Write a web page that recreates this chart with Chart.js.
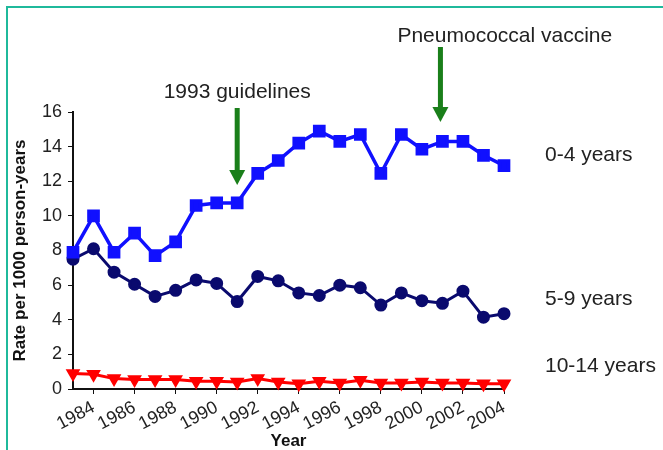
<!DOCTYPE html>
<html lang="en">
<head>
  <meta charset="UTF-8">
  <title>Rate per 1000 person-years by age group</title>
  <script src="https://cdn.jsdelivr.net/npm/chart.js@4.4.1/dist/chart.umd.min.js"></script>
</head>
<style>
* {
  margin: 0;
  padding: 0;
  box-sizing: border-box;
}

body {
  background: #fff;
  width: 663px;
  height: 450px;
  overflow: hidden;
}

.wrapper {
  position: relative;
  width: 663px;
  height: 450px;
}

.frame {
  position: absolute;
  left: 6px;
  top: 6px;
  right: 0;
  bottom: 0;
  border-left: 2px solid #1fb99b;
  border-top: 2px solid #1fb99b;
  pointer-events: none;
}
</style>
<body>
<div class="wrapper">
  <canvas id="chart" width="663" height="450"></canvas>
  <div class="frame"></div>
</div>
<script>
const years = ["1983", "1984", "1985", "1986", "1987", "1988", "1989", "1990", "1991", "1992", "1993",
  "1994", "1995", "1996", "1997", "1998", "1999", "2000", "2001", "2002", "2003", "2004"];

const age0to4 = [7.9, 10.0, 7.9, 9.0, 7.7, 8.5, 10.6, 10.75, 10.75, 12.45, 13.2,
  14.2, 14.9, 14.3, 14.7, 12.45, 14.7, 13.85, 14.3, 14.3, 13.5, 12.9];
const age5to9 = [7.5, 8.1, 6.75, 6.05, 5.35, 5.7, 6.3, 6.1, 5.05, 6.5, 6.25,
  5.55, 5.4, 6.0, 5.85, 4.85, 5.55, 5.1, 4.95, 5.65, 4.15, 4.35];
const age10to14 = [0.9, 0.85, 0.6, 0.55, 0.55, 0.55, 0.45, 0.45, 0.4, 0.6, 0.4,
  0.3, 0.45, 0.35, 0.5, 0.35, 0.35, 0.4, 0.35, 0.35, 0.3, 0.3];

const seriesNames = ["0-4 years", "5-9 years", "10-14 years"];
const noteTexts = ["1993 guidelines", "Pneumococcal vaccine"];
const noteYears = ["1991", "2001"];

const textFont = "21px 'Liberation Sans', Arial, sans-serif";
const green = "#1a7f1a";

// down arrow: shaft from yTop, head ends at yTip
function drawArrow(ctx, x, yTop, yTip) {
  const head = 15;
  ctx.fillStyle = green;
  ctx.fillRect(x - 2.5, yTop, 5, yTip - yTop - head);
  ctx.beginPath();
  ctx.moveTo(x - 8, yTip - head);
  ctx.lineTo(x + 8, yTip - head);
  ctx.lineTo(x, yTip);
  ctx.closePath();
  ctx.fill();
}

const overlay = {
  id: "overlay",
  afterDraw(chart) {
    const { ctx, chartArea, scales } = chart;
    const x = scales.x;
    const y = scales.y;
    ctx.save();
    ctx.font = textFont;
    ctx.fillStyle = "#222";
    ctx.textBaseline = "middle";
    ctx.textAlign = "left";
    const lx = chartArea.right + 41;
    ctx.fillText(seriesNames[0], lx, y.getPixelForValue(13.5));
    ctx.fillText(seriesNames[1], lx, y.getPixelForValue(5.2));
    ctx.fillText(seriesNames[2], lx, y.getPixelForValue(1.3));

    const top = chartArea.top;
    const x1 = x.getPixelForValue(years.indexOf(noteYears[0]));
    const x2 = x.getPixelForValue(years.indexOf(noteYears[1])) - 2;
    ctx.textBaseline = "alphabetic";
    ctx.textAlign = "center";
    ctx.fillText(noteTexts[0], x1, top - 14);
    ctx.textAlign = "left";
    ctx.fillText(noteTexts[1], x2 - 43, top - 70);
    drawArrow(ctx, x1, top - 4, top + 73);
    drawArrow(ctx, x2, top - 65, top + 10);
    ctx.restore();
  }
};

const tickFont = { family: "'Liberation Sans', Arial, sans-serif", size: 18 };
const titleFont = { family: "'Liberation Sans', Arial, sans-serif", size: 17, weight: "bold", lineHeight: 1 };

new Chart(document.getElementById("chart"), {
  type: "line",
  plugins: [overlay],
  data: {
    labels: years,
    datasets: [
      {
        label: seriesNames[0],
        data: age0to4,
        borderColor: "#1010ff",
        backgroundColor: "#1010ff",
        borderWidth: 3.5,
        pointStyle: "rect",
        pointRadius: 6.5,
        clip: false
      },
      {
        label: seriesNames[1],
        data: age5to9,
        borderColor: "#0a0a6e",
        backgroundColor: "#0a0a6e",
        borderWidth: 3,
        pointStyle: "circle",
        pointRadius: 5,
        clip: false
      },
      {
        label: seriesNames[2],
        data: age10to14,
        borderColor: "#ff0000",
        backgroundColor: "#ff0000",
        borderWidth: 3,
        pointStyle: "triangle",
        rotation: 180,
        pointRadius: 5.5,
        clip: false
      }
    ]
  },
  options: {
    responsive: false,
    animation: false,
    layout: {
      padding: { top: 112, right: 159, bottom: 0, left: 0 }
    },
    plugins: {
      legend: { display: false },
      tooltip: { enabled: false }
    },
    scales: {
      x: {
        afterFit: (scale) => { scale.height = 61; },
        border: { color: "#111", width: 2 },
        grid: { drawOnChartArea: false, drawTicks: true, tickLength: 5, color: "#111" },
        ticks: {
          autoSkip: false,
          maxRotation: 28,
          minRotation: 28,
          padding: 3,
          color: "#222",
          font: tickFont,
          callback: function (value) {
            const yr = this.getLabelForValue(value);
            return Number(yr) % 2 === 0 ? yr : null;
          }
        },
        title: {
          display: true,
          text: "Year",
          color: "#111",
          font: titleFont,
          padding: { top: 0, bottom: 0 }
        }
      },
      y: {
        min: 0,
        max: 16,
        afterFit: (scale) => { scale.width = 73; },
        border: { color: "#111", width: 2 },
        grid: { drawOnChartArea: false, drawTicks: true, tickLength: 5, color: "#111" },
        ticks: {
          stepSize: 2,
          padding: 6,
          color: "#222",
          font: tickFont
        },
        title: {
          display: true,
          text: "Rate per 1000 person-years",
          color: "#111",
          font: titleFont,
          padding: { top: 12, bottom: 0 }
        }
      }
    }
  }
});
</script>
</body>
</html>
